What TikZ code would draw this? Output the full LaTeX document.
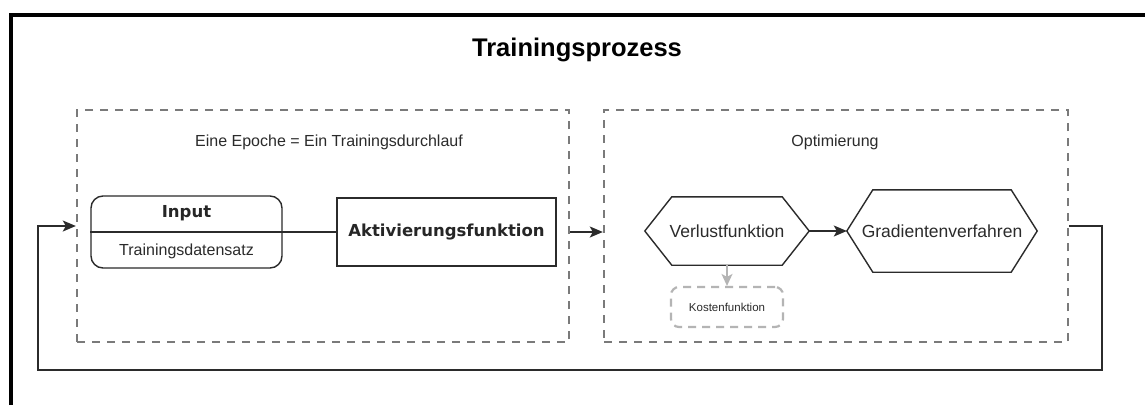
\documentclass[tikz,border=0pt]{standalone}
\usepackage{fontspec}
\setmainfont{Liberation Sans}
\newfontfamily\boldsans{DejaVu Sans}
\usetikzlibrary{arrows.meta,calc}

\definecolor{ink}{HTML}{2B2B2B}
\definecolor{groupgray}{HTML}{7A7A7A}
\definecolor{softgray}{HTML}{B4B4B4}

\tikzset{
  frameline/.style={line width=4pt, black},
  groupbox/.style={draw=groupgray, line width=2.4pt, dash pattern=on 8pt off 7pt, rectangle, inner sep=0pt},
  grouplabel/.style={text=ink, font=\fontsize{16}{18}\selectfont, inner sep=0pt},
  boxline/.style={draw=ink, line width=1.4pt},
  plainbox/.style={boxline, rectangle, inner sep=0pt},
  roundbox/.style={boxline, rectangle, rounded corners=12pt, inner sep=0pt},
  hexnode/.style={rectangle, inner sep=0pt, text=ink, font=\fontsize{17.5}{20}\selectfont},
  boldtext/.style={text=black!85, font=\boldsans\bfseries\fontsize{16.5}{19}\selectfont, inner sep=0pt},
  regtext/.style={text=ink, font=\fontsize{16}{18}\selectfont, inner sep=0pt},
  conn/.style={draw=ink, line width=1.4pt},
  arr/.style={conn, -{Stealth[length=13pt,width=11pt,inset=3pt]}},
  softarr/.style={draw=softgray, line width=1.4pt, -{Stealth[length=12pt,width=11pt,inset=3pt]}},
  softbox/.style={draw=softgray, line width=2.2pt, dash pattern=on 8pt off 6pt, rectangle, rounded corners=8pt, inner sep=0pt,
                  text=ink, font=\fontsize{11.5}{13}\selectfont},
}

\begin{document}
\begin{tikzpicture}[x=1pt,y=-1pt]
  \useasboundingbox (0,0) rectangle (1145,405);
  \fill[white] (0,0) rectangle (1145,405);

  % outer frame (left and top edges)
  \draw[frameline] (11,405) -- (11,15) -- (1145,15);

  % title
  \node[font=\bfseries\fontsize{25.5}{28}\selectfont, text=black, inner sep=0pt] (title) at (577,50) {Trainingsprozess};

  % the two process groups
  \node[groupbox, minimum width=492pt, minimum height=232pt] (epoch) at (323,226) {};
  \node[groupbox, minimum width=464pt, minimum height=232pt] (optim) at (836,226) {};
  \node[grouplabel] (epochlbl) at (329,142) {Eine Epoche = Ein Trainingsdurchlauf};
  \node[grouplabel] (optimlbl) at (835,142) {Optimierung};

  % input container with header and body
  \node[roundbox, minimum width=191pt, minimum height=72pt] (inp) at (186.5,232) {};
  \draw[conn] (inp.west) -- (inp.east);
  \node[boldtext] (inptitle) at (186.5,213) {Input};
  \node[regtext] (inpbody) at (186.5,251) {Trainingsdatensatz};

  % activation function
  \node[plainbox, minimum width=219pt, minimum height=68pt, boldtext, inner sep=0pt] (akt) at (446.5,232) {Aktivierungsfunktion};
  \draw[conn] (inp.east) -- (akt.west);

  % hexagonal steps
  \node[hexnode, minimum width=164pt, minimum height=68pt] (verl) at (727,231) {Verlustfunktion};
  \node[hexnode, minimum width=190pt, minimum height=82pt] (grad) at (942,231) {Gradientenverfahren};
  \draw[boxline] ([xshift=27pt]verl.north west) -- ([xshift=-27pt]verl.north east) -- (verl.east)
                 -- ([xshift=-27pt]verl.south east) -- ([xshift=27pt]verl.south west) -- (verl.west) -- cycle;
  \draw[boxline] ([xshift=26pt]grad.north west) -- ([xshift=-26pt]grad.north east) -- (grad.east)
                 -- ([xshift=-26pt]grad.south east) -- ([xshift=26pt]grad.south west) -- (grad.west) -- cycle;

  % cost function (dashed, soft)
  \node[softbox, minimum width=112pt, minimum height=40pt] (kost) at (727,307) {Kostenfunktion};
  \draw[softarr] (verl.south) -- (kost.north);

  % flow between steps and groups
  \draw[arr] (verl.east) -- (grad.west);
  \draw[arr] (epoch.east |- akt.east) -- (optim.west |- akt.east);

  % feedback loop back to the next epoch
  \coordinate (loopR) at (1102,370);
  \coordinate (loopL) at (38,370);
  \draw[arr] (optim.east) -| (loopR) -- (loopL) |- (epoch.west);
\end{tikzpicture}
\end{document}
